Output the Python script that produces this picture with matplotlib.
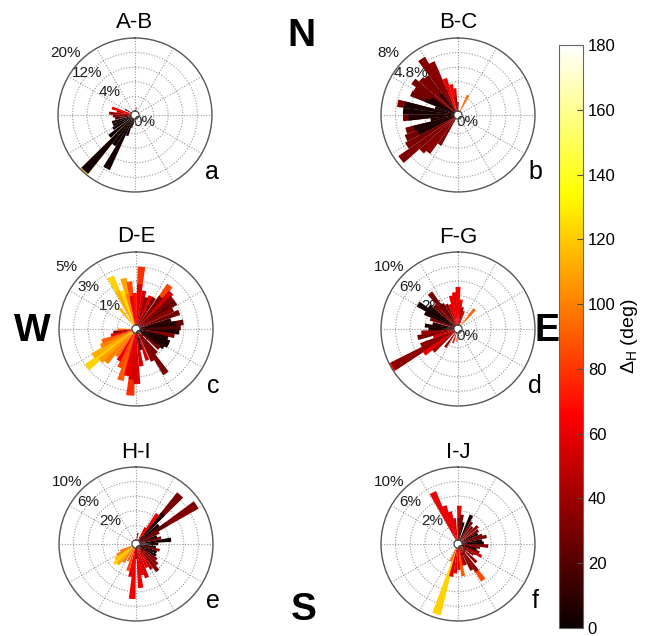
import numpy as np
import matplotlib.pyplot as plt
from matplotlib.colors import Normalize
from matplotlib.cm import ScalarMappable

plt.rcParams['font.family'] = ['Liberation Sans', 'DejaVu Sans']
plt.rcParams['mathtext.fontset'] = 'custom'
plt.rcParams['mathtext.rm'] = 'Liberation Sans'

# bar direction (compass deg), length (%), Delta_H (deg) for each rose
a_dir = [287, 281, 274, 267, 260, 252, 245, 238, 230, 222, 222, 215, 208, 201, 195, 300, 10, 190]
a_len = [5.5, 4.0, 6.0, 5.0, 4.5, 5.5, 5.5, 6.0, 8.0, 20.0, 19.5, 9.0, 15.5, 5.0, 2.5, 2.0, 1.0, 1.5]
a_dh = [62, 55, 38, 30, 18, 5, 3, 2, 2, 120, 2, 2, 2, 3, 10, 40, 30, 20]

b_dir = [212, 219, 225, 232, 239, 246, 246, 253, 253, 260, 267, 267, 274, 281, 281, 288,
         295, 295, 301, 301, 307, 314, 320, 320, 327, 333, 340, 347, 353, 353, 0, 27]
b_len = [3.4, 4.8, 5.2, 7.5, 6.1, 5.8, 4.3, 5.5, 4.6, 2.6, 5.6, 5.0, 5.6, 6.3, 5.5, 2.2,
         5.2, 3.5, 5.1, 3.0, 5.7, 5.2, 5.0, 2.5, 6.9, 6.0, 3.8, 3.0, 2.5, 1.5, 1.0, 2.0]
b_dh = [30, 35, 32, 32, 30, 28, 4, 30, 5, 5, 28, 5, 4, 30, 4, 5,
        25, 5, 30, 5, 30, 32, 30, 5, 33, 35, 60, 62, 58, 30, 40, 95]

c_dir = [334, 334, 340, 346, 346, 352, 352, 358, 5, 5, 12, 18, 24, 30, 38, 38, 44, 50, 56, 62,
         69, 76, 82, 82, 88, 94, 100, 106, 112, 118, 124, 130, 140, 146, 152, 160, 166, 172,
         179, 185, 185, 191, 197, 203, 209, 215, 222, 228, 232, 238, 244, 250, 256, 262, 268, 322]
c_len = [3.7, 2.6, 2.5, 3.3, 2.2, 3.0, 2.0, 2.2, 4.0, 2.8, 2.4, 2.0, 2.2, 2.2, 3.5, 2.5, 3.2, 3.0, 3.0, 2.6,
         2.9, 2.2, 3.0, 2.5, 2.8, 2.7, 2.4, 2.0, 2.2, 2.2, 2.0, 1.8, 1.9, 3.4, 2.2, 2.0, 1.2, 2.3,
         3.5, 4.3, 3.2, 3.0, 3.4, 2.6, 2.2, 2.0, 2.8, 3.0, 4.0, 3.2, 2.4, 2.2, 1.5, 1.3, 1.0, 1.5]
c_dh = [122, 112, 125, 110, 100, 85, 60, 70, 78, 58, 55, 35, 60, 30, 85, 30, 55, 30, 25, 35,
        28, 10, 25, 5, 20, 5, 35, 5, 5, 3, 10, 30, 30, 30, 35, 55, 5, 55,
        55, 78, 55, 60, 90, 85, 60, 95, 100, 108, 122, 112, 100, 90, 60, 35, 90, 115]

d_dir = [240, 240, 234, 228, 246, 252, 258, 264, 270, 276, 282, 290, 296, 302, 308, 315,
         322, 328, 335, 342, 348, 354, 0, 6, 12, 18, 40, 185, 200, 215]
d_len = [10.1, 9.7, 5.2, 4.0, 5.0, 3.0, 5.1, 4.5, 3.5, 4.0, 3.0, 3.5, 4.5, 5.9, 4.5, 4.0,
         5.7, 3.5, 3.2, 3.0, 4.1, 4.5, 5.2, 3.5, 2.5, 2.0, 3.0, 1.2, 1.5, 2.5]
d_dh = [62, 35, 60, 40, 35, 55, 30, 40, 5, 5, 8, 30, 5, 3, 5, 30,
        30, 25, 35, 55, 60, 60, 62, 60, 35, 55, 92, 85, 60, 35]

e_dir = [30, 36, 42, 42, 50, 57, 57, 63, 70, 76, 83, 90, 99, 105, 112, 120, 127, 134, 141,
         148, 155, 162, 168, 174, 180, 184, 190, 197, 205, 215, 222, 228, 234, 240, 246, 10]
e_len = [2.0, 4.5, 8.5, 5.0, 3.5, 9.3, 4.5, 3.0, 2.5, 3.0, 4.3, 2.5, 2.2, 2.8, 2.5, 2.6, 3.0, 3.5, 4.2,
         3.5, 3.0, 4.3, 3.8, 5.5, 1.5, 7.0, 4.0, 3.3, 2.0, 2.5, 3.2, 3.5, 3.0, 2.5, 1.8, 1.0]
e_dh = [55, 60, 30, 3, 5, 32, 20, 30, 5, 30, 3, 5, 5, 35, 5, 3, 30, 35, 30,
        50, 55, 55, 60, 60, 30, 62, 60, 85, 90, 95, 110, 122, 118, 100, 95, 40]

f_dir = [334, 340, 346, 352, 2, 2, 8, 14, 25, 32, 40, 48, 56, 63, 70, 75, 82, 88, 94, 100,
         106, 112, 118, 125, 135, 145, 145, 152, 160, 165, 171, 178, 185, 192, 197, 203]
f_len = [7.3, 5.0, 4.0, 3.0, 4.7, 3.0, 3.5, 2.5, 3.8, 3.0, 2.5, 3.1, 2.8, 2.5, 3.0, 3.5, 2.8, 3.0, 3.6, 2.5,
         2.0, 2.6, 3.1, 2.0, 3.0, 5.5, 4.0, 3.5, 2.5, 2.5, 3.9, 3.0, 3.5, 4.0, 9.5, 2.0]
f_dh = [60, 60, 58, 55, 60, 35, 30, 5, 3, 30, 28, 35, 30, 5, 30, 30, 5, 5, 35, 30,
        5, 30, 55, 30, 35, 85, 35, 35, 30, 55, 90, 60, 60, 55, 122, 90]

titles = ['A-B', 'B-C', 'D-E', 'F-G', 'H-I', 'I-J']
letters = ['a', 'b', 'c', 'd', 'e', 'f']
r_max = [20, 8, 5, 10, 10, 10]
r_step = [4, 1.6, 1, 2, 2, 2]
dirs_all = [a_dir, b_dir, c_dir, d_dir, e_dir, f_dir]
lens_all = [a_len, b_len, c_len, d_len, e_len, f_len]
dh_all = [a_dh, b_dh, c_dh, d_dh, e_dh, f_dh]

W, H = 647, 636
R = 77
centers = [(135, 115), (458, 115), (136, 329), (458, 329), (136, 544), (458, 544)]

fig = plt.figure(figsize=(W / 100, H / 100), dpi=100)
norm = Normalize(0, 180)
cmap = plt.get_cmap('hot')

for i in range(6):
    cx, cy = centers[i]
    ax = fig.add_axes([(cx - R) / W, (H - cy - R) / H, 2 * R / W, 2 * R / H], projection='polar')
    ax.set_theta_zero_location('N')
    ax.set_theta_direction(-1)

    dirs = np.asarray(dirs_all[i], float)
    lens = np.asarray(lens_all[i], float)
    dh = np.asarray(dh_all[i], float)
    order = np.argsort(-lens, kind='stable')
    ax.bar(np.deg2rad(dirs[order]), lens[order], width=np.deg2rad(7), bottom=0,
           color=cmap(norm(dh[order])), linewidth=0, zorder=2)

    rmax, step = r_max[i], r_step[i]
    ax.set_ylim(0, rmax)
    ax.set_rorigin(-0.055 * rmax)
    ticks = np.arange(0, rmax + step / 2, step)
    ax.set_yticks(ticks)
    ax.set_yticklabels([])
    ax.set_xticks(np.deg2rad(np.arange(0, 360, 30)))
    ax.set_xticklabels([])
    ax.tick_params(length=0)
    ax.grid(True, color='0.6', linestyle=(0, (1, 1.5)), linewidth=0.8)
    ax.spines['polar'].set_color('0.35')
    ax.spines['polar'].set_linewidth(1.0)
    ax.spines['inner'].set_color('0.25')
    ax.spines['inner'].set_linewidth(0.8)

    for v in ticks[1::2]:
        ax.annotate('{:g}%'.format(v), xy=(np.deg2rad(312), v), xytext=(-12, 10.5),
                    textcoords='offset pixels', ha='center', va='center', fontsize=11,
                    color='0.1', zorder=1, annotation_clip=False)
    ax.annotate('0%', xy=(0.5, 0.5), xycoords='axes fraction', xytext=(9, -7),
                textcoords='offset pixels', ha='center', va='center', fontsize=11,
                color='0.1', zorder=1)
    ax.annotate(titles[i], xy=(0.5, 0.5), xycoords='axes fraction', xytext=(0, 92),
                textcoords='offset pixels', ha='center', va='center', fontsize=16,
                annotation_clip=False)
    ax.annotate(letters[i], xy=(0.5, 0.5), xycoords='axes fraction', xytext=(77, -57),
                textcoords='offset pixels', ha='center', va='center', fontsize=18,
                annotation_clip=False)

for lab, x, y, fs in [('N', 301, 36, 28), ('W', 32, 331, 28), ('E', 547, 331, 27), ('S', 304, 610, 28)]:
    fig.text(x / W, 1 - y / H, lab, fontsize=fs, fontweight='bold', ha='center', va='center')

cax = fig.add_axes([559 / W, 8 / H, 24 / W, 583 / H])
cb = fig.colorbar(ScalarMappable(norm=norm, cmap=cmap), cax=cax, ticks=np.arange(0, 181, 20))
cb.ax.tick_params(direction='in', length=4, width=0.8, labelsize=12, color='0.3')
cb.outline.set_edgecolor('0.4')
cb.outline.set_linewidth(0.8)
cb.set_label(r'$\mathrm{\Delta_H}$ (deg)', fontsize=14, labelpad=2)

fig.savefig('out.png', dpi=100, facecolor='white')
